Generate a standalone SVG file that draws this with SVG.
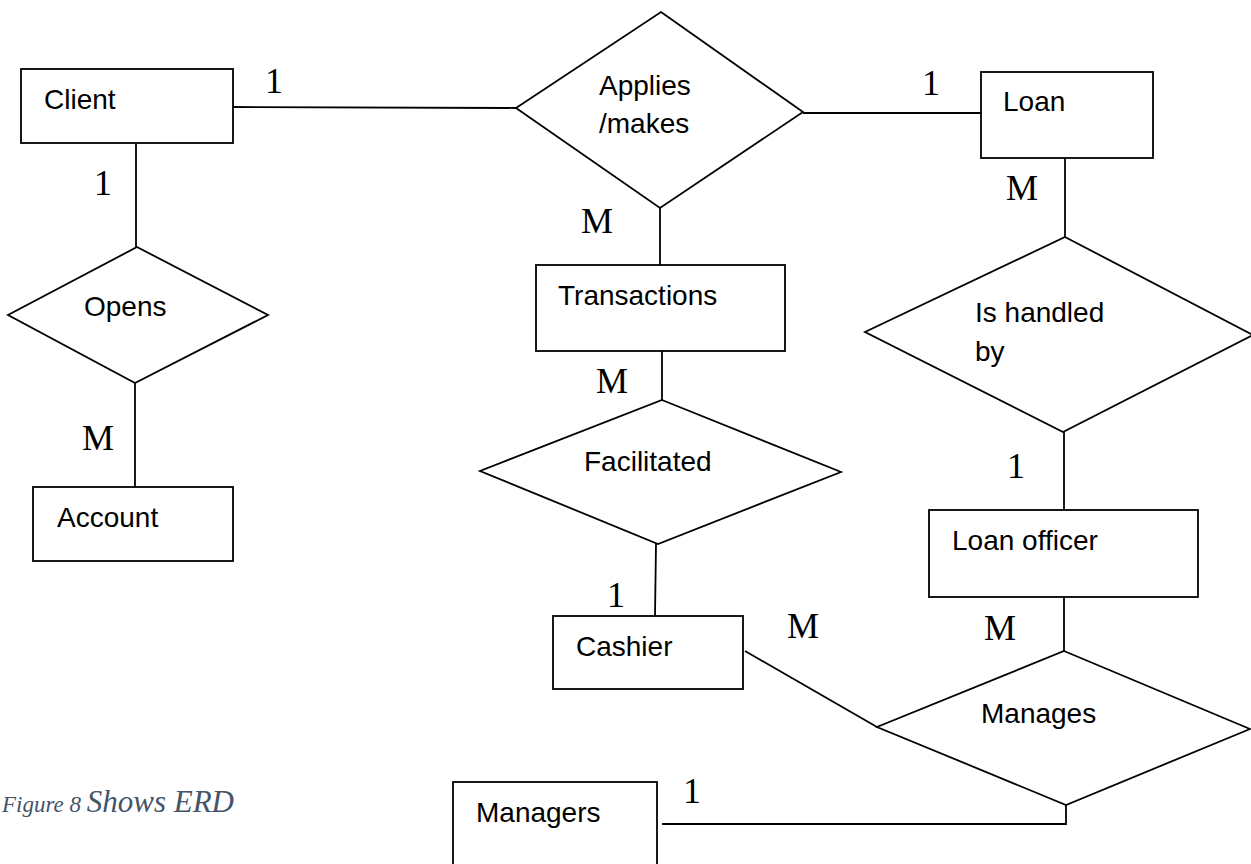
<svg xmlns="http://www.w3.org/2000/svg" width="1251" height="864" viewBox="0 0 1251 864">
<style>
.box{fill:#fff;stroke:#000;stroke-width:1.8}
.dia{fill:#fff;stroke:#000;stroke-width:1.8}
.lbl{font-family:"Liberation Sans",Arial,sans-serif;font-size:28px;fill:#000}
.card{font-family:"Liberation Serif","Times New Roman",serif;font-size:36px;fill:#000}
.conn line,.conn polyline{stroke:#000;stroke-width:1.8;fill:none}
</style>
<rect width="1251" height="864" fill="#fff"/>
<g id="connectors" class="conn">
<line x1="233" y1="107" x2="516" y2="108"/>
<line x1="803" y1="113" x2="981" y2="113"/>
<line x1="136" y1="143" x2="136" y2="247"/>
<line x1="135" y1="383" x2="135" y2="487"/>
<line x1="660" y1="207" x2="660" y2="265"/>
<line x1="662" y1="351" x2="662" y2="400"/>
<line x1="656" y1="544" x2="655" y2="616"/>
<line x1="1065" y1="158" x2="1065" y2="237"/>
<line x1="1064" y1="432" x2="1064" y2="510"/>
<line x1="1064" y1="597" x2="1064" y2="651"/>
<line x1="745" y1="651" x2="877" y2="727"/>
<polyline points="1066,805 1066,824 662,824"/>
</g>
<g id="client"><rect class="box" x="21" y="69" width="212" height="74"/><text class="lbl" x="44" y="109">Client</text></g>
<g id="applies"><polygon class="dia" points="661,12 803,112 660,208 516,108"/><text class="lbl" x="599" y="95">Applies</text><text class="lbl" x="599" y="133">/makes</text></g>
<g id="loan"><rect class="box" x="981" y="72" width="172" height="86"/><text class="lbl" x="1003" y="111">Loan</text></g>
<g id="opens"><polygon class="dia" points="137,247 268,315 135,383 8,315"/><text class="lbl" x="84" y="316">Opens</text></g>
<g id="account"><rect class="box" x="33" y="487" width="200" height="74"/><text class="lbl" x="57" y="527">Account</text></g>
<g id="transactions"><rect class="box" x="536" y="265" width="249" height="86"/><text class="lbl" x="558" y="305">Transactions</text></g>
<g id="facilitated"><polygon class="dia" points="662,400 841,472 658,544 480,471"/><text class="lbl" x="584" y="471">Facilitated</text></g>
<g id="is-handled-by"><polygon class="dia" points="1065,237 1253,335 1063,432 865,332"/><text class="lbl" x="975" y="322">Is handled</text><text class="lbl" x="975" y="361">by</text></g>
<g id="loan-officer"><rect class="box" x="929" y="510" width="269" height="87"/><text class="lbl" x="952" y="550">Loan officer</text></g>
<g id="cashier"><rect class="box" x="553" y="616" width="190" height="73"/><text class="lbl" x="576" y="656">Cashier</text></g>
<g id="manages"><polygon class="dia" points="1064,651 1250,729 1066,805 877,727"/><text class="lbl" x="981" y="723">Manages</text></g>
<g id="managers"><rect class="box" x="453" y="782" width="204" height="90"/><text class="lbl" x="476" y="822">Managers</text></g>
<g id="cardinalities">
<text class="card" x="265" y="93">1</text>
<text class="card" x="94" y="195">1</text>
<text class="card" x="922" y="95">1</text>
<text class="card" x="1006" y="200">M</text>
<text class="card" x="581" y="233">M</text>
<text class="card" x="596" y="393">M</text>
<text class="card" x="82" y="450">M</text>
<text class="card" x="607" y="607">1</text>
<text class="card" x="1007" y="478">1</text>
<text class="card" x="787" y="638">M</text>
<text class="card" x="984" y="640">M</text>
<text class="card" x="683" y="803">1</text>
</g>
<text id="caption" x="2" y="812" font-family="'Liberation Serif','Times New Roman',serif" font-style="italic" fill="#44546A"><tspan font-size="23">Figure 8 </tspan><tspan font-size="31">Shows ERD</tspan></text>
</svg>
